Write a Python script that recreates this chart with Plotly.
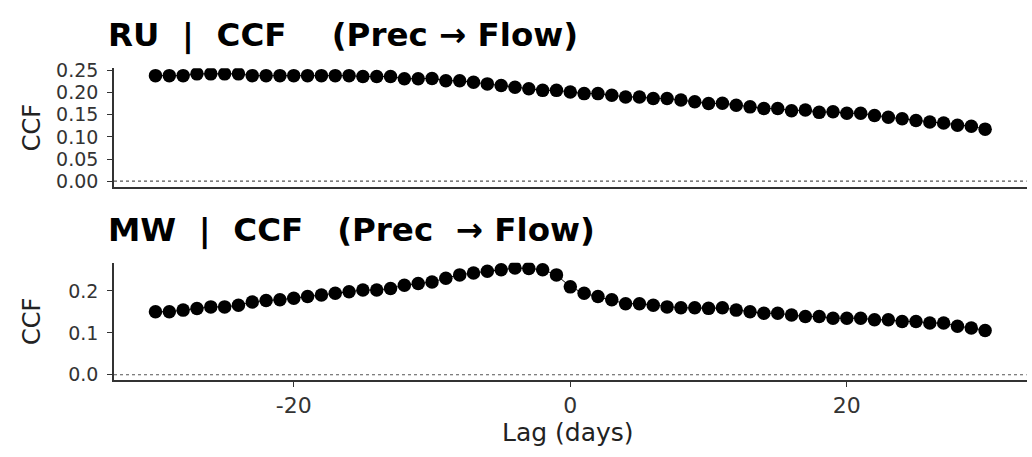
import plotly.graph_objects as go

lags = list(range(-30, 31))

ru_ccf = [0.238, 0.238, 0.238, 0.242, 0.242, 0.242, 0.242, 0.238, 0.238, 0.238,
          0.238, 0.238, 0.238, 0.238, 0.238, 0.236, 0.236, 0.236, 0.231, 0.231,
          0.2317, 0.2266, 0.2266, 0.2229, 0.2194, 0.2157, 0.212, 0.2085, 0.2048, 0.2048,
          0.201, 0.1975, 0.1975, 0.1938, 0.190, 0.190, 0.1866, 0.1866, 0.1829, 0.1792,
          0.1750, 0.1757, 0.1713, 0.1676, 0.1639, 0.1639, 0.1589, 0.1604, 0.1552, 0.1567,
          0.153, 0.153, 0.148, 0.1443, 0.1407, 0.137, 0.1333, 0.1311, 0.126, 0.1239,
          0.1174]

mw_ccf = [0.1504, 0.1504, 0.1543, 0.1581, 0.162, 0.162, 0.1658, 0.1736, 0.1774, 0.1789,
          0.1828, 0.1867, 0.1906, 0.1944, 0.1983, 0.2021, 0.2021, 0.206, 0.2137, 0.2176,
          0.2214, 0.2306, 0.2384, 0.243, 0.2469, 0.2507, 0.2546, 0.2538, 0.2507, 0.2384,
          0.2098, 0.1944, 0.1867, 0.1789, 0.1697, 0.1697, 0.1658, 0.162, 0.1597, 0.1597,
          0.1585, 0.1597, 0.1543, 0.1504, 0.1466, 0.1466, 0.1427, 0.1389, 0.1389, 0.135,
          0.135, 0.135, 0.1311, 0.1311, 0.1273, 0.1273, 0.1234, 0.1234, 0.1157, 0.1118,
          0.1056]

titles = ["RU  |  CCF    (Prec \u2192 Flow)", "MW  |  CCF   (Prec  \u2192 Flow)"]
x_ticks = [-20, 0, 20]
ru_yticks = [0.00, 0.05, 0.10, 0.15, 0.20, 0.25]
mw_yticks = [0.0, 0.1, 0.2]

W, H = 1032, 457
FONT = "DejaVu Sans, Verdana, sans-serif"
AXC = "#333333"

def px_x(p):
    return p / W

def px_y(p):
    return 1 - p / H

fig = go.Figure()
for i, ys in enumerate([ru_ccf, mw_ccf]):
    fig.add_trace(go.Scatter(
        x=lags, y=ys, mode="lines+markers",
        line=dict(color="black", width=1),
        marker=dict(color="black", size=13.5),
        xaxis="x" if i == 0 else "x2",
        yaxis="y" if i == 0 else "y2",
        showlegend=False, hoverinfo="x+y"))

xdom = [px_x(114), px_x(1026.6)]
common_x = dict(range=[-33, 33], showgrid=False, zeroline=False, showline=True,
                linecolor=AXC, linewidth=1.6, domain=xdom)
x_tick_font = dict(size=22, color=AXC, family=FONT)
y_tick_font = dict(size=19, color=AXC, family=FONT)
common_y = dict(ticks="outside", ticklen=5, tickwidth=1.4, tickcolor=AXC,
                showgrid=False, zeroline=False, showline=True, linecolor=AXC,
                linewidth=1.6, tickfont=y_tick_font, ticklabelstandoff=5)
fig.update_layout(
    width=W, height=H, margin=dict(l=0, r=0, t=0, b=0),
    paper_bgcolor="white", plot_bgcolor="white",
    font=dict(family=FONT, color=AXC),
    xaxis=dict(**common_x, anchor="y", showticklabels=False, ticks=""),
    xaxis2=dict(**common_x, anchor="y2", tickvals=x_ticks,
                ticktext=[str(v) for v in x_ticks], ticks="outside",
                ticklen=5, tickwidth=1.4, tickcolor=AXC, tickfont=x_tick_font),
    yaxis=dict(**common_y, domain=[px_y(183.2), px_y(61.1)], anchor="x",
               range=[-0.0121, 0.2547], tickvals=ru_yticks,
               ticktext=["%.2f" % v for v in ru_yticks]),
    yaxis2=dict(**common_y, domain=[px_y(382.8), px_y(261.8)], anchor="x2",
                range=[-0.0127, 0.2673], tickvals=mw_yticks,
                ticktext=["%.1f" % v for v in mw_yticks]),
)

# dotted zero reference lines
for xr, yr in [("x", "y"), ("x2", "y2")]:
    fig.add_shape(type="line", xref=xr + " domain", yref=yr, x0=0, x1=1, y0=0, y1=0,
                  line=dict(color="#555555", width=1.2, dash="dot"), layer="below")

# panel titles
for t, yc in zip(titles, [27, 229]):
    fig.add_annotation(text="<b>" + t + "</b>", xref="paper", yref="paper",
                       x=px_x(106), y=px_y(yc), xanchor="left", yanchor="middle",
                       showarrow=False, font=dict(size=32.5, color="black", family=FONT))

# axis titles
for yc in [123, 323]:
    fig.add_annotation(text="CCF", xref="paper", yref="paper", x=px_x(32), y=px_y(yc),
                       xanchor="center", yanchor="middle", textangle=-90, showarrow=False,
                       font=dict(size=24, color="#222222", family=FONT))
fig.add_annotation(text="Lag (days)", xref="paper", yref="paper", x=px_x(568), y=px_y(437),
                   xanchor="center", yanchor="middle", showarrow=False,
                   font=dict(size=25, color="#222222", family=FONT))

fig.write_html("out.html")
